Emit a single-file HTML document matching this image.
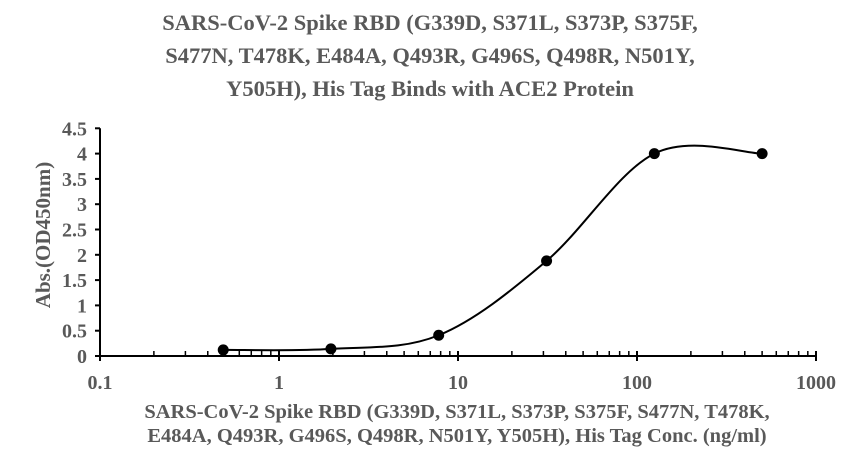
<!DOCTYPE html>
<html><head><meta charset="utf-8"><style>
body{margin:0;background:#fff;width:859px;height:471px;overflow:hidden}
svg text{font-family:"Liberation Serif",serif;font-weight:bold;fill:#595959}
</style></head><body>
<svg id="c" width="859" height="471">
<g>
<text x="430" y="30" font-size="22.5" text-anchor="middle">SARS-CoV-2 Spike RBD (G339D, S371L, S373P, S375F,</text>
<text x="430" y="63" font-size="22.5" text-anchor="middle">S477N, T478K, E484A, Q493R, G496S, Q498R, N501Y,</text>
<text x="430" y="96" font-size="22.5" text-anchor="middle">Y505H), His Tag Binds with ACE2 Protein</text>
</g>
<g>
<text x="457" y="418" font-size="20.5" text-anchor="middle">SARS-CoV-2 Spike RBD (G339D, S371L, S373P, S375F, S477N, T478K,</text>
<text x="457" y="442" font-size="20.5" text-anchor="middle">E484A, Q493R, G496S, Q498R, N501Y, Y505H), His Tag Conc. (ng/ml)</text>
</g>
<text transform="translate(50,235) rotate(-90)" font-size="21" text-anchor="middle">Abs.(OD450nm)</text>
<g id="axes"></g>
<g id="marks"></g>
</svg>
<script>
const xTicks=[0.1,1,10,100,1000];
const xTickLabels=["0.1","1","10","100","1000"];
const yTicks=[0,0.5,1,1.5,2,2.5,3,3.5,4,4.5];
const yTickLabels=["0","0.5","1","1.5","2","2.5","3","3.5","4","4.5"];
const concentrations=[0.488,1.95,7.8,31.25,125,500];
const absorbance=[0.12,0.14,0.41,1.88,4.0,4.0];
const NS="http://www.w3.org/2000/svg";
const X0=100,X1=816,Y0=356,Y1=128.3;
function xs(v){return X0+(Math.log10(v)+1)/4*(X1-X0);}
function ys(v){return Y0-v/4.5*(Y0-Y1);}
function mk(t,a,p){const e=document.createElementNS(NS,t);for(const k in a)e.setAttribute(k,a[k]);(p||document.getElementById('axes')).appendChild(e);return e;}
let l=mk('line',{x1:X0,y1:Y0,x2:X1,y2:Y0,stroke:'#000','stroke-width':2});

l=mk('line',{x1:X0,y1:Y1,x2:X0,y2:Y0,stroke:'#000','stroke-width':2});

yTicks.forEach((v,i)=>{
 mk('line',{x1:X0-5,y1:ys(v),x2:X0,y2:ys(v),stroke:'#000','stroke-width':2});
 const t=mk('text',{x:X0-13,y:ys(v)+7,'font-size':20,'text-anchor':'end'});t.textContent=yTickLabels[i];
 
});
xTicks.forEach((v,i)=>{
 mk('line',{x1:xs(v),y1:Y0-5,x2:xs(v),y2:Y0+5,stroke:'#000','stroke-width':2});
 const t=mk('text',{x:xs(v),y:Y0+33,'font-size':20,'text-anchor':'middle'});t.textContent=xTickLabels[i];
 
 if(i<xTicks.length-1)for(let m=2;m<=9;m++)mk('line',{x1:xs(v*m),y1:Y0-5,x2:xs(v*m),y2:Y0,stroke:'#000','stroke-width':1.5});
});
const g=document.getElementById('marks');
const P=concentrations.map((c,i)=>[xs(c),ys(absorbance[i])]);
let d='M'+P[0][0]+','+P[0][1];const k=1/6;
for(let i=0;i<P.length-1;i++){
 const p0=P[Math.max(0,i-1)],p1=P[i],p2=P[i+1],p3=P[Math.min(P.length-1,i+2)];
 d+=` C${p1[0]+(p2[0]-p0[0])*k},${p1[1]+(p2[1]-p0[1])*k} ${p2[0]-(p3[0]-p1[0])*k},${p2[1]-(p3[1]-p1[1])*k} ${p2[0]},${p2[1]}`;
}
const path=mk('path',{d:d,fill:'none',stroke:'#000','stroke-width':2},g);

P.forEach(p=>{const c=mk('circle',{cx:p[0],cy:p[1],r:5.5,fill:'#000'},g);
 });
</script>
</body></html>
